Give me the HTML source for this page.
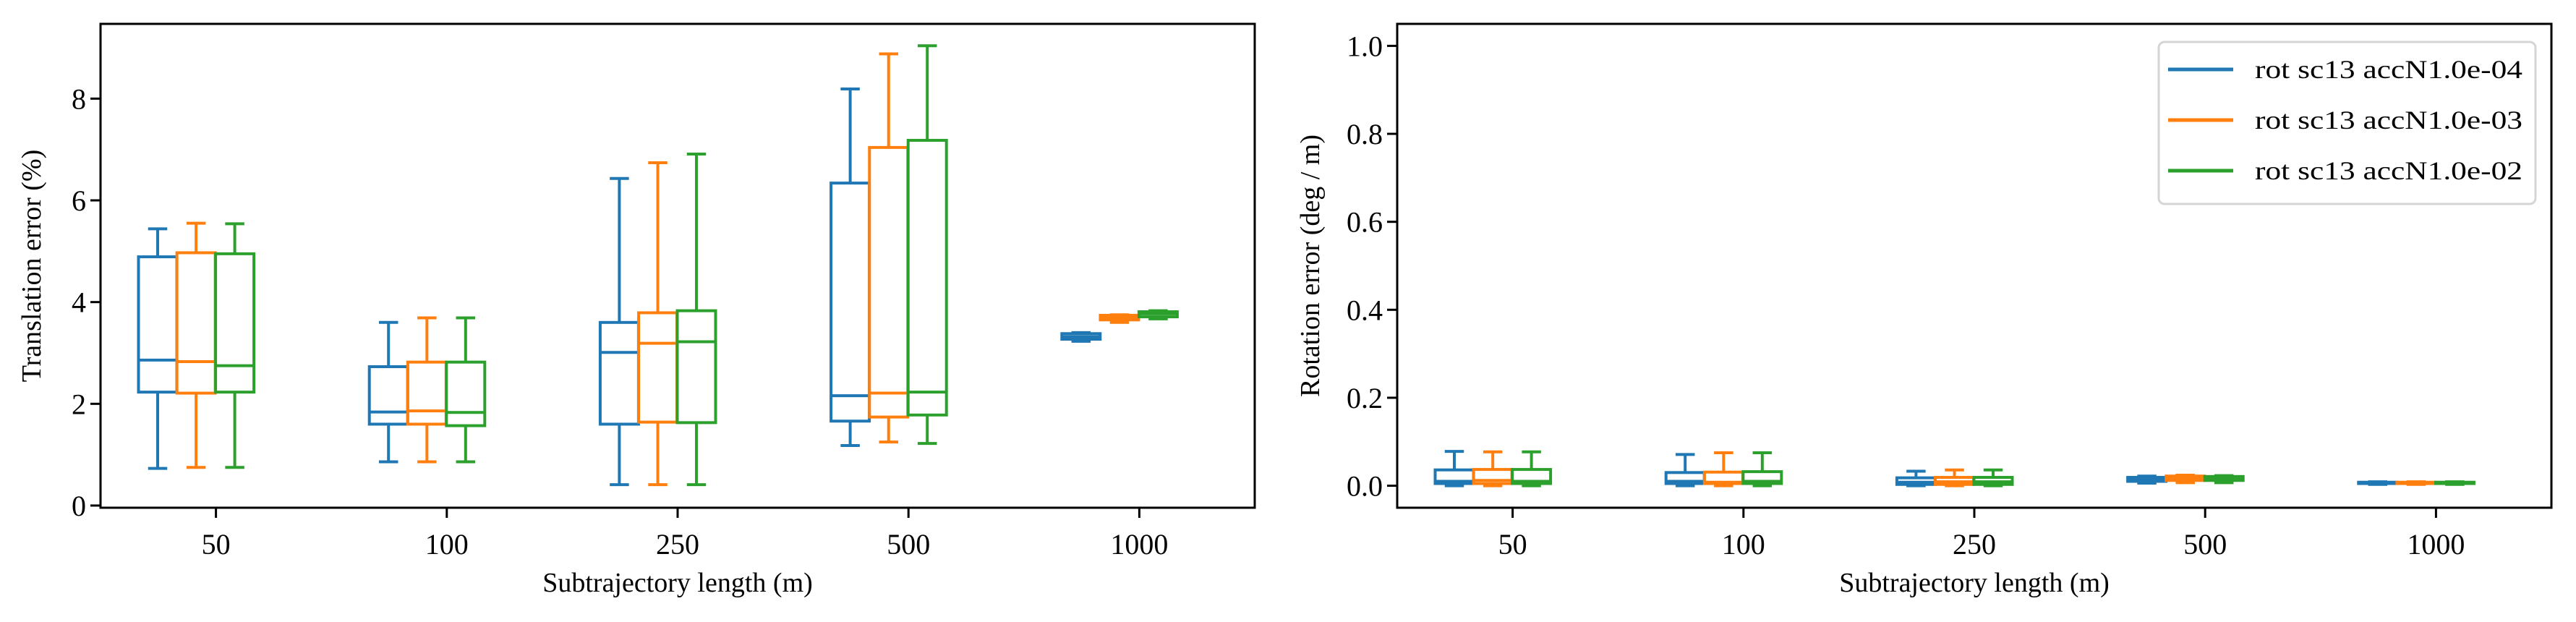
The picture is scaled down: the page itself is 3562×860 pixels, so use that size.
<!DOCTYPE html>
<html><head><meta charset="utf-8"><style>
html,body{margin:0;padding:0;background:#fff;}
svg{display:block;font-family:"Liberation Serif",serif;}
</style></head><body>
<svg id="fig" width="3562" height="860" viewBox="0 0 3562 860"></svg>
<script>
const categories = ["50","100","250","500","1000"];
const seriesNames = ["rot sc13 accN1.0e-04","rot sc13 accN1.0e-03","rot sc13 accN1.0e-02"];
const colors = ["#1f77b4","#ff7f0e","#2ca02c"];
// translation stats per series: [low, q1, median, q3, high] per category
const transBlue   = [[0.73,2.23,2.86,4.89,5.44],[0.86,1.60,1.84,2.73,3.60],[0.41,1.60,3.01,3.60,6.43],[1.18,1.66,2.16,6.34,8.19],[3.23,3.27,3.32,3.38,3.40]];
const transOrange = [[0.75,2.21,2.83,4.97,5.55],[0.86,1.60,1.86,2.82,3.69],[0.41,1.64,3.19,3.79,6.74],[1.25,1.74,2.21,7.04,8.88],[3.60,3.65,3.69,3.74,3.75]];
const transGreen  = [[0.75,2.23,2.75,4.95,5.54],[0.86,1.57,1.83,2.82,3.69],[0.41,1.63,3.22,3.83,6.91],[1.22,1.78,2.23,7.18,9.04],[3.67,3.71,3.77,3.81,3.83]];
const rotBlue   = [[0.0,0.005,0.010,0.036,0.078],[0.0,0.005,0.010,0.030,0.071],[0.0,0.003,0.008,0.018,0.033],[0.006,0.010,0.015,0.019,0.022],[0.003,0.005,0.006,0.008,0.009]];
const rotOrange = [[0.0,0.005,0.012,0.037,0.077],[0.0,0.005,0.008,0.031,0.075],[0.0,0.003,0.009,0.019,0.036],[0.007,0.012,0.017,0.022,0.024],[0.003,0.005,0.006,0.008,0.009]];
const rotGreen  = [[0.0,0.005,0.010,0.037,0.077],[0.0,0.005,0.010,0.032,0.075],[0.0,0.003,0.009,0.019,0.036],[0.007,0.012,0.017,0.021,0.023],[0.003,0.005,0.006,0.008,0.009]];
const transTicks = [0,2,4,6,8];
const transTickLabels = ["0","2","4","6","8"];
const rotTicks = [0,0.2,0.4,0.6,0.8,1.0];
const rotTickLabels = ["0.0","0.2","0.4","0.6","0.8","1.0"];

const NS="http://www.w3.org/2000/svg";
const svg=document.getElementById('fig');
function mk(tag,attrs,parent){const e=document.createElementNS(NS,tag);for(const k in attrs)e.setAttribute(k,attrs[k]);(parent||svg).appendChild(e);return e;}

function panel(px0,px1,py0,py1,ymin,ymax,data,ticks,tickLabels,ylabel,name,legend){
  const g=mk('g',{});
  
  
  const xs=v=>px0+(v-0.5)/5*(px1-px0);
  const ys=v=>py1-(v-ymin)/(ymax-ymin)*(py1-py0);
  const offs=[-0.2525,-0.086,0.0815], bw=0.166;
  data.forEach((ser,si)=>{
    ser.forEach((s,ci)=>{
      const cx=xs(ci+1+offs[si]), hw=bw/2*(px1-px0)/5;
      const bg=mk('g',{},g);
      
      
      const c=colors[si], lw=4;
      mk('line',{x1:cx,x2:cx,y1:ys(s[3]),y2:ys(s[4]),stroke:c,'stroke-width':lw},bg);
      mk('line',{x1:cx,x2:cx,y1:ys(s[0]),y2:ys(s[1]),stroke:c,'stroke-width':lw},bg);
      mk('line',{x1:cx-hw/2,x2:cx+hw/2,y1:ys(s[4]),y2:ys(s[4]),stroke:c,'stroke-width':lw},bg);
      mk('line',{x1:cx-hw/2,x2:cx+hw/2,y1:ys(s[0]),y2:ys(s[0]),stroke:c,'stroke-width':lw},bg);
      mk('rect',{x:cx-hw,y:ys(s[3]),width:2*hw,height:Math.max(0.5,ys(s[1])-ys(s[3])),fill:'none',stroke:c,'stroke-width':lw},bg);
      mk('line',{x1:cx-hw,x2:cx+hw,y1:ys(s[2]),y2:ys(s[2]),stroke:c,'stroke-width':lw},bg);
    });
  });
  mk('rect',{x:px0,y:py0,width:px1-px0,height:py1-py0,fill:'none',stroke:'#000','stroke-width':3},g);
  ticks.forEach((t,i)=>{
    const y=ys(t);
    mk('line',{x1:px0-14,x2:px0,y1:y,y2:y,stroke:'#000','stroke-width':3},g);
    const tx=mk('text',{x:px0-20,y:y+14,'text-anchor':'end','font-size':40},g);
    tx.textContent=tickLabels[i];
    
    
  });
  categories.forEach((c,i)=>{
    const x=xs(i+1);
    mk('line',{x1:x,x2:x,y1:py1,y2:py1+14,stroke:'#000','stroke-width':3},g);
    const tx=mk('text',{x:x,y:766,'text-anchor':'middle','font-size':40},g);
    tx.textContent=c;
    
    
  });
  const xl=mk('text',{x:(px0+px1)/2,y:818,'text-anchor':'middle','font-size':38},g);
  xl.textContent='Subtrajectory length (m)';
  
  
  const yl=mk('text',{x:0,y:0,'text-anchor':'middle','font-size':38,transform:`translate(${name==='translation-panel'?56:1824},${(py0+py1)/2}) rotate(-90)`},g);
  yl.textContent=ylabel;
  
  
  if(legend){
    const lg=mk('g',{},g);
    
    
    mk('rect',{x:2985,y:58,width:521,height:224,rx:8,fill:'#fff',stroke:'#d5d5d5','stroke-width':3},lg);
    seriesNames.forEach((n,i)=>{
      const y=96+i*70;
      const e=mk('g',{},lg);
      
      
      mk('line',{x1:2998,x2:3088,y1:y,y2:y,stroke:colors[i],'stroke-width':5},e);
      const t=mk('text',{x:3118,y:y+12,'font-size':36,textLength:370,lengthAdjust:'spacingAndGlyphs'},e);
      t.textContent=n;
    });
  }
}
panel(139,1735,33,702,-0.043,9.47,[transBlue,transOrange,transGreen],transTicks,transTickLabels,'Translation error (%)','translation-panel',false);
panel(1932,3528,33,702,-0.05,1.05,[rotBlue,rotOrange,rotGreen],rotTicks,rotTickLabels,'Rotation error (deg / m)','rotation-panel',true);
</script>
</body></html>
